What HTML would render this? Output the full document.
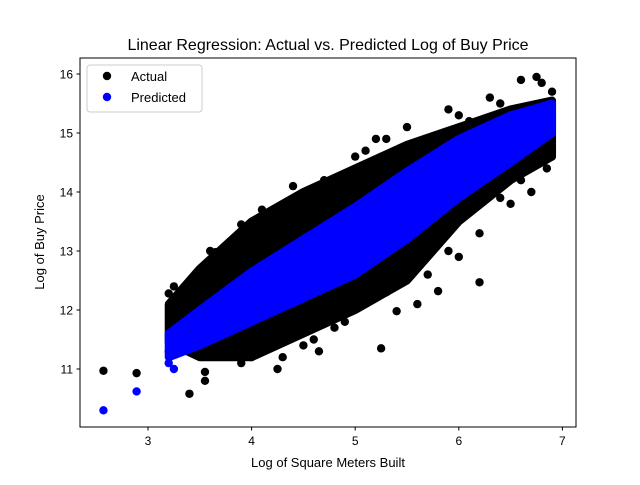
<!DOCTYPE html>
<html><head><meta charset="utf-8"><style>
body{margin:0;background:#fff;}
svg{font-family:"Liberation Sans","DejaVu Sans",sans-serif;}
</style></head><body>
<svg id="chart" width="640" height="480" viewBox="0 0 640 480">
<rect width="640" height="480" fill="#fff"/>
<g id="marks"></g>
<rect x="80" y="58" width="496" height="369" fill="none" stroke="#000" stroke-width="1"/>
<g id="axes"></g>
<text x="328" y="50" text-anchor="middle" font-size="16">Linear Regression: Actual vs. Predicted Log of Buy Price</text>
<text x="328" y="467" text-anchor="middle" font-size="13">Log of Square Meters Built</text>
<text transform="translate(44,242) rotate(-90)" text-anchor="middle" font-size="13">Log of Buy Price</text>
<g>
<rect x="87" y="65" width="115" height="47" rx="3" fill="#fff" fill-opacity="0.8" stroke="#ccc"/>
<circle cx="107" cy="76" r="4.2" fill="#000"/>
<text x="131" y="81" font-size="13">Actual</text>
<circle cx="107" cy="97" r="4.2" fill="#0000ff"/>
<text x="131" y="102" font-size="13">Predicted</text>
</g>
</svg>
<script>
const xTicks=[3,4,5,6,7];
const yTicks=[11,12,13,14,15,16];
const bandX=[3.2,3.5,4.0,4.5,5.0,5.5,6.0,6.5,6.9];
const actualLow=[11.45,11.2,11.2,11.6,12.0,12.5,13.5,14.2,14.6];
const actualHigh=[12.1,12.7,13.5,14.0,14.4,14.8,15.1,15.4,15.55];
const predLow=[11.2,11.4,11.8,12.2,12.6,13.2,13.9,14.5,15.0];
const predHigh=[11.6,12.0,12.65,13.2,13.75,14.35,14.9,15.3,15.5];
const actualX=[2.57,2.89,3.4,3.55,3.55,3.2,3.4,3.65,3.65,3.85,3.9,4.25,4.65,5.25,5.4,5.8,6.2,6.0,5.5,4.45,4.7,5.5,5.9,6.0,6.3,6.6,6.75,6.85,6.5,6.25,5.6,4.8,4.0,3.9,3.8,3.3,3.25,3.8,4.2,5.0,5.2,6.1,6.4,6.8,6.9,6.4,6.6,4.3,4.6,4.9,5.3,5.7,5.9,6.2,4.1,4.4,5.1,5.3,3.6,4.5,5.6,6.7];
const actualY=[10.97,10.93,10.58,10.8,10.95,12.28,12.42,12.75,12.98,13.2,13.45,11.0,11.3,11.35,11.98,12.32,12.47,12.9,12.9,13.9,14.2,15.1,15.4,15.3,15.6,15.9,15.95,14.4,13.8,13.9,13.4,11.7,11.2,11.1,11.4,11.3,12.4,13.1,13.6,14.6,14.9,15.2,15.5,15.85,15.7,13.9,14.2,11.2,11.5,11.8,12.3,12.6,13.0,13.3,13.7,14.1,14.7,14.9,13.0,11.4,12.1,14.0];
const predX=[2.57,2.89,3.2,3.25,3.2];
const predY=[10.3,10.62,11.1,11.0,11.3];
const sx=v=>148+(v-3)*103.6;
const sy=v=>74+(16-v)*59;
const NS="http://www.w3.org/2000/svg";
const marks=document.getElementById('marks'),axes=document.getElementById('axes');
function band(lo,hi,color,name){
  let pts=bandX.map((x,i)=>sx(x)+','+sy(hi[i]));
  for(let i=bandX.length-1;i>=0;i--)pts.push(sx(bandX[i])+','+sy(lo[i]));
  const p=document.createElementNS(NS,'polygon');
  p.setAttribute('points',pts.join(' '));
  p.setAttribute('fill',color);p.setAttribute('stroke',color);
  p.setAttribute('stroke-width','8');p.setAttribute('stroke-linejoin','round');
  
  
  marks.appendChild(p);
}
function pts(xs,ys,color,name){
  xs.forEach((x,i)=>{
    const c=document.createElementNS(NS,'circle');
    c.setAttribute('cx',sx(x));c.setAttribute('cy',sy(ys[i]));c.setAttribute('r',4.2);c.setAttribute('fill',color);
    
    
    marks.appendChild(c);
  });
}
band(actualLow,actualHigh,'#000','actual-dense-cloud');
pts(actualX,actualY,'#000','actual-point');
band(predLow,predHigh,'#0000ff','predicted-dense-cloud');
pts(predX,predY,'#0000ff','predicted-point');
xTicks.forEach(t=>{
  const l=document.createElementNS(NS,'line');
  l.setAttribute('x1',sx(t));l.setAttribute('x2',sx(t));l.setAttribute('y1',427);l.setAttribute('y2',430.5);l.setAttribute('stroke','#000');
  
  
  axes.appendChild(l);
  const tx=document.createElementNS(NS,'text');
  tx.setAttribute('x',sx(t));tx.setAttribute('y',445);tx.setAttribute('text-anchor','middle');tx.setAttribute('font-size','12');
  tx.textContent=t;
  
  
  axes.appendChild(tx);
});
yTicks.forEach(t=>{
  const l=document.createElementNS(NS,'line');
  l.setAttribute('x1',76.5);l.setAttribute('x2',80);l.setAttribute('y1',sy(t));l.setAttribute('y2',sy(t));l.setAttribute('stroke','#000');
  
  
  axes.appendChild(l);
  const tx=document.createElementNS(NS,'text');
  tx.setAttribute('x',73);tx.setAttribute('y',sy(t)+4.5);tx.setAttribute('text-anchor','end');tx.setAttribute('font-size','12');
  tx.textContent=t;
  
  
  axes.appendChild(tx);
});
</script>
</body></html>
